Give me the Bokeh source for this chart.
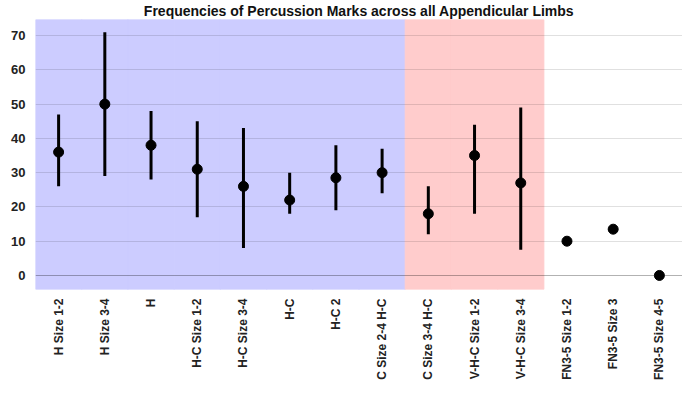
import math
from bokeh.plotting import figure
from bokeh.models import ColumnDataSource, FactorRange, Range1d, FixedTicker, Grid
from bokeh.embed import file_html
from bokeh.resources import INLINE

# ---- data ----
categories = ["H Size 1-2", "H Size 3-4", "H", "H-C Size 1-2", "H-C Size 3-4",
              "H-C", "H-C 2", "C Size 2-4 H-C", "C Size 3-4 H-C",
              "V-H-C Size 1-2", "V-H-C Size 3-4",
              "FN3-5 Size 1-2", "FN3-5 Size 3", "FN3-5 Size 4-5"]
mean_vals = [36, 50, 38, 31, 26, 22, 28.5, 30, 18, 35, 27, 10, 13.5, 0]
low_vals = [26, 29, 28, 17, 8, 18, 19, 24, 12, 18, 7.5, None, None, None]
high_vals = [47, 71, 48, 45, 43, 30, 38, 37, 26, 44, 49, None, None, None]
groups = ["H"] * 8 + ["VHC"] * 3 + ["FN"] * 3
group_colors = {"H": "#ccccff", "VHC": "#ffcccc"}
y_ticks = [0, 10, 20, 30, 40, 50, 60, 70]

nan = float("nan")
lows = [nan if v is None else v for v in low_vals]
highs = [nan if v is None else v for v in high_vals]

y_start, y_end = -4.1, 74.7

p = figure(width=682, height=389, output_backend="svg", toolbar_location=None,
           x_range=FactorRange(*categories, range_padding=0),
           y_range=Range1d(y_start, y_end),
           min_border_left=35, min_border_right=0, min_border_top=0,
           min_border_bottom=100,
           title="Frequencies of Percussion Marks across all Appendicular Limbs")
p.outline_line_color = None
p.background_fill_color = "white"

p.title.align = "center"
p.title.text_font = "Liberation Sans"
p.title.text_font_size = "14px"
p.title.text_font_style = "bold"
p.title.text_color = "#111111"
p.title.standoff = 1

# background bands
band_cats = [c for c, g in zip(categories, groups) if g in group_colors]
band_cols = [group_colors[g] for g in groups if g in group_colors]
band_src = ColumnDataSource(dict(x=band_cats, color=band_cols))
p.vbar(x="x", width=1, top=y_end, bottom=y_start, source=band_src,
       fill_color="color", line_color="color", line_width=1, level="underlay")

# grid
p.xgrid.grid_line_color = None
p.ygrid.ticker = FixedTicker(ticks=y_ticks[1:])
p.ygrid.grid_line_color = "black"
p.ygrid.grid_line_alpha = 0.12
p.ygrid.level = "glyph"

zero_grid = Grid(dimension=1, ticker=FixedTicker(ticks=y_ticks[:1]),
                 grid_line_color="black", grid_line_alpha=0.3, level="glyph")
p.add_layout(zero_grid)

# error bars and points
src = ColumnDataSource(dict(x=categories, mean=mean_vals, low=lows, high=highs))
p.segment(x0="x", x1="x", y0="low", y1="high", source=src,
          line_color="black", line_width=3)
p.scatter(x="x", y="mean", source=src, size=10, fill_color="black",
          line_color="black")

# axes
p.yaxis.ticker = FixedTicker(ticks=y_ticks)
for ax in (p.xaxis[0], p.yaxis[0]):
    ax.axis_line_color = None
    ax.major_tick_line_color = None
    ax.minor_tick_line_color = None
    ax.major_label_text_font = "Liberation Sans"
    ax.major_label_text_font_style = "bold"
    ax.major_label_text_color = "#222222"
p.yaxis.major_label_text_font_size = "13px"
p.yaxis.major_label_standoff = 4
p.xaxis.major_label_text_font_size = "12px"
p.xaxis.major_label_orientation = math.pi / 2
p.xaxis.major_label_standoff = 3

open("out.html", "w").write(file_html(p, INLINE))
